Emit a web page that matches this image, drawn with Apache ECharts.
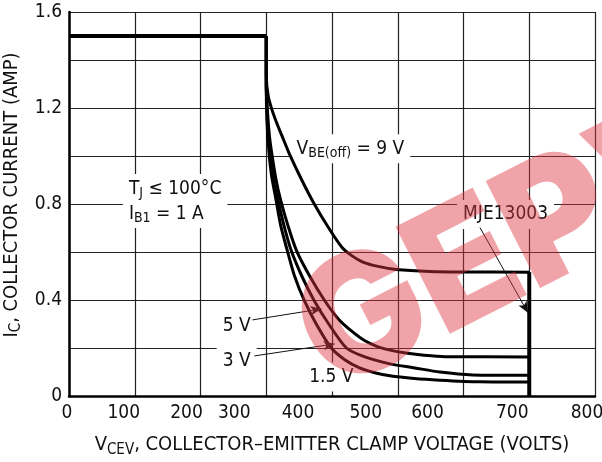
<!DOCTYPE html>
<html>
<head>
<meta charset="utf-8">
<script src="https://cdn.jsdelivr.net/npm/echarts@6/dist/echarts.min.js"></script>
<style>
  html, body { margin: 0; padding: 0; background: #fff; }
  #chart { width: 602px; height: 462px; }
</style>
</head>
<body>
<div id="chart"></div>
<script>
// x tick labels (volts)
const xTickLabels = [0, 100, 200, 300, 400, 500, 600, 700, 800]

// [VCEV (V), IC (A)]
const limitLine = [[0, 1.5], [300, 1.5]]
const clampLine = [[700, 0.516], [700, 0]]
const vbe9 = [[300, 1.5], [300, 1.34], [303, 1.25], [309, 1.19], [317, 1.13], [326, 1.07], [335, 1.01],
  [354, 0.9], [373, 0.8], [395, 0.7], [415, 0.62], [430, 0.585], [447, 0.558], [470, 0.54], [498, 0.527],
  [549, 0.519], [600, 0.517], [700, 0.516]]
const vbe5 = [[300, 1.5], [300, 1.3], [302, 1.18], [305, 1.08], [309, 1.0], [315, 0.9], [322, 0.815], [333, 0.71],
  [346, 0.606], [366, 0.5], [389, 0.397], [410, 0.32], [430, 0.27], [450, 0.23], [470, 0.205], [490, 0.19],
  [515, 0.178], [540, 0.17], [572, 0.164], [700, 0.163]]
const vbe3 = [[300, 1.5], [300, 1.3], [301, 1.2], [303, 1.1], [306, 1.011], [311, 0.9], [318, 0.815], [327, 0.71],
  [338, 0.606], [354, 0.5], [373, 0.397], [395, 0.3], [422, 0.2], [450, 0.163], [488, 0.134], [526, 0.117],
  [564, 0.1], [614, 0.088], [700, 0.086]]
const vbe15 = [[300, 1.5], [300, 1.3], [301, 1.15], [304, 1.02], [308, 0.92], [315, 0.815], [322, 0.71], [332, 0.606],
  [343, 0.5], [358, 0.397], [376, 0.3], [399, 0.2], [420, 0.15], [442, 0.117], [465, 0.097], [488, 0.084],
  [525, 0.073], [564, 0.066], [625, 0.059], [700, 0.058]]

// annotation anchors and arrows, in data units
const notes = [
  { name: 'cond', coord: [82, 0.812], text: '{n|T}{s|J}{n| \u2264 100\u00b0C}\n{n|I}{s|B1}{n| = 1 A}', left: true },
  { name: 'vbe', coord: [428, 1.03], text: '{n|V}{s|BE(off)}{n| = 9 V}' },
  { name: 'part', coord: [664, 0.756], text: '{n|MJE13003}' },
  { name: 'v5', coord: [255, 0.292], text: '{n|5 V}' },
  { name: 'v3', coord: [255, 0.146], text: '{n|3 V}' },
  { name: 'v15', coord: [399, 0.079], text: '{n|1.5 V}' },
]
const arrows = [
  [[279, 0.317], [384, 0.363]],
  [[282, 0.167], [404, 0.217]],
  [[625, 0.702], [698, 0.347]],
]

const FONT = "'Liberation Sans Narrow', 'DejaVu Sans Condensed', 'Arial Narrow', sans-serif"

// the printed tick labels sit left of their grid lines
const labelShift = [2, 11, 14, 32, 34, 32, 36, 17, 8]
const xRich = {}
labelShift.forEach(function (d, i) {
  xRich['t' + i] = { fontSize: 19, fontFamily: FONT, color: '#111', padding: [0, 2 * d, 0, 0] }
})

const richText = {
  n: { fontSize: 19, fontFamily: FONT, color: '#111', lineHeight: 25 },
  s: { fontSize: 14, fontFamily: FONT, color: '#111', lineHeight: 15, padding: [10, 0, 0, 0] },
}
const nameRich = {
  n: { fontSize: 20, fontFamily: FONT, color: '#111', lineHeight: 26 },
  s: { fontSize: 15, fontFamily: FONT, color: '#111', lineHeight: 16, padding: [10, 0, 0, 0] },
}

function curve(data, width) {
  return {
    type: 'line',
    data: data,
    showSymbol: false,
    smooth: 0.25,
    z: 3,
    lineStyle: { color: '#000', width: width },
  }
}

const chart = echarts.init(document.getElementById('chart'))
chart.setOption({
  animation: false,
  grid: { left: 69, right: 7, top: 12, bottom: 66, outerBoundsMode: 'none', containLabel: false },
  xAxis: {
    type: 'value',
    min: 0,
    max: 800,
    interval: 100,
    name: '{n|V}{s|CEV}{n|, COLLECTOR\u2013EMITTER CLAMP VOLTAGE (VOLTS)}',
    nameLocation: 'middle',
    nameGap: 36,
    nameTextStyle: { rich: nameRich },
    axisLine: { lineStyle: { color: '#000', width: 2.5 } },
    axisTick: { show: false },
    splitLine: { lineStyle: { color: '#222', width: 1.2 } },
    axisLabel: {
      margin: 8,
      formatter: function (v) {
        const i = xTickLabels.indexOf(v)
        return '{t' + i + '|' + v + '}'
      },
      rich: xRich,
    },
  },
  yAxis: {
    type: 'value',
    min: 0,
    max: 1.6,
    interval: 0.2,
    name: '{n|I}{s|C}{n|, COLLECTOR CURRENT (AMP)}',
    nameLocation: 'middle',
    nameGap: 40,
    nameTextStyle: { rich: nameRich, padding: [0, 0, 0, 18] },
    axisLine: { lineStyle: { color: '#000', width: 2.5 } },
    axisTick: { show: false },
    splitLine: { lineStyle: { color: '#222', width: 1.2 } },
    axisLabel: {
      margin: 7,
      fontSize: 19,
      fontFamily: FONT,
      color: '#111',
      formatter: function (v) {
        const k = Math.round(v * 10)
        if (k % 4 !== 0) return ''
        return k === 0 ? '0' : (k / 10).toFixed(1)
      },
    },
  },
  series: [
    // white label boxes sit over the grid but under the curves
    {
      type: 'scatter',
      data: [],
      z: 1,
      markPoint: {
        z: 1,
        symbol: 'rect',
        symbolSize: 0,
        silent: true,
        label: {
          show: true,
          position: 'inside',
          backgroundColor: '#fff',
          padding: [2, 6],
          formatter: function (p) { return p.data.value },
          rich: richText,
        },
        data: notes.map(function (n) {
          const item = { name: n.name, coord: n.coord, value: n.text }
          if (n.left) item.label = { align: 'left' }
          return item
        }),
      },
      markLine: {
        z: 4,
        silent: true,
        symbol: ['none', 'arrow'],
        symbolSize: [7, 11],
        label: { show: false },
        lineStyle: { color: '#111', width: 1, type: 'solid' },
        data: arrows.map(function (a) { return [{ coord: a[0] }, { coord: a[1] }] }),
      },
    },
    curve(limitLine, 4),
    curve(clampLine, 4),
    curve(vbe9, 3),
    curve(vbe5, 3),
    curve(vbe3, 3),
    curve(vbe15, 3),
  ],
  // red watermark stamped over the scan
  graphic: [{
    type: 'text',
    x: 347,
    y: 423,
    rotation: 0.47,
    z: 100,
    silent: true,
    style: {
      text: 'GEPV',
      fontSize: 165,
      fontWeight: 900,
      fontFamily: "Inter, Lato, 'DejaVu Sans'",
      fill: 'rgba(222, 50, 62, 0.45)',
      textVerticalAlign: 'bottom',
    },
  }],
})
</script>
</body>
</html>
